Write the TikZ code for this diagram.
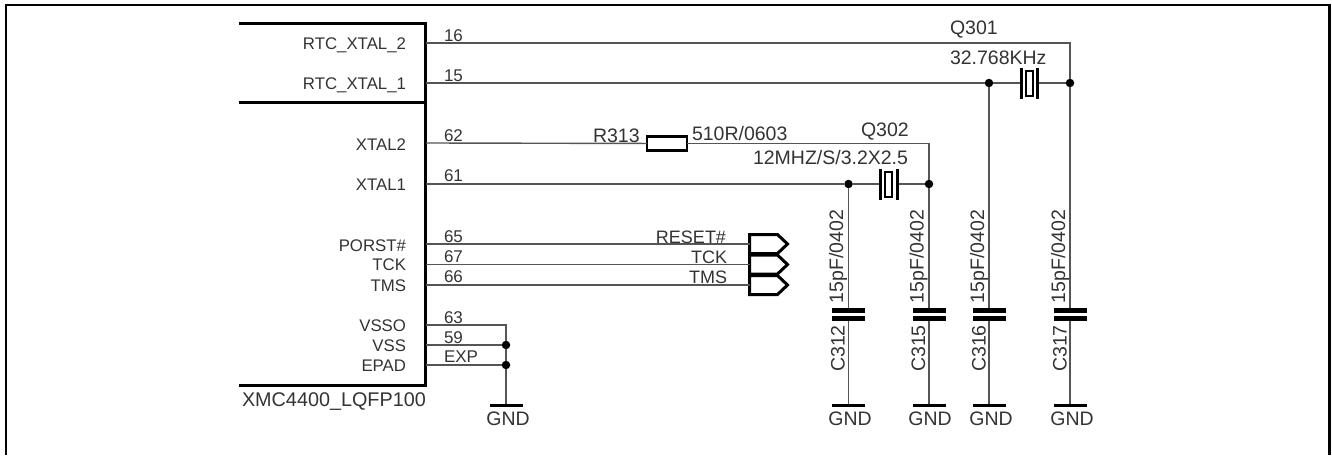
\documentclass[tikz,border=0pt]{standalone}
\usepackage{fontspec}
\setmainfont{Liberation Sans}
\usetikzlibrary{shapes, shapes.symbols, positioning}
\definecolor{MyText}{HTML}{333333}
\definecolor{MyWire}{HTML}{555555}

\begin{document}
\begin{tikzpicture}	[
			x=1pt, y=-1pt,
			every node/.style={inner sep=0pt, outer sep=0pt, text=MyText},
			pinname/.style={anchor=base east, font=\fontsize{16.8}{17}\selectfont},
			pinnum/.style={anchor=base west, font=\fontsize{17}{17}\selectfont},
			part/.style={anchor=base west, font=\fontsize{19.5}{20}\selectfont},
			capval/.style={rotate=90, font=\fontsize{19.5}{20}\selectfont},
			junction/.style={circle, fill=black, minimum size=8.5pt},
			wire/.style={draw=MyWire, line width=1.4pt},
			heavy/.style={draw=black, line width=3pt},
			plate/.style={fill=black, minimum width=33pt, minimum height=5.5pt},
			gndbar/.style={fill=black, minimum width=33pt, minimum height=3pt},
			xplate/.style={fill=black, minimum width=3pt, minimum height=31pt},
			xbox/.style={draw=black, line width=2pt, minimum width=7pt, minimum height=25pt},
			port/.style={signal, signal to=east, signal pointer angle=87, draw=black, line width=3pt, minimum width=38pt, minimum height=19pt}
		]
			\useasboundingbox (0,0) rectangle (1332,455);

			% frame and chip outline
			\draw[line width=2.5pt] (6,455) |- (1329.5,5) -- (1329.5,455);
			\draw[heavy] (239,23) -- (425,23) -- (425,385) -- (239,385);
			\draw[heavy] (239,102.5) -- (425,102.5);

			\node [pinname] at (406,49) {RTC\_XTAL\_2};
			\node [pinname] at (406,89) {RTC\_XTAL\_1};
			\node [pinname] at (406,150) {XTAL2};
			\node [pinname] at (406,190) {XTAL1};
			\node [pinname] at (406,251) {PORST\#};
			\node [pinname] at (406,270) {TCK};
			\node [pinname] at (406,291) {TMS};
			\node [pinname] at (406,331) {VSSO};
			\node [pinname] at (406,351) {VSS};
			\node [pinname] at (406,371) {EPAD};
			\node (chipname) [part, font=\fontsize{19.8}{20}\selectfont] at (242,406) {XMC4400\_LQFP100};

			\node [pinnum] at (444,41) {16};
			\node [pinnum] at (444,81) {15};
			\node [pinnum] at (444,141) {62};
			\node [pinnum] at (444,181) {61};
			\node [pinnum] at (444,242) {65};
			\node [pinnum] at (444,262) {67};
			\node [pinnum] at (444,282) {66};
			\node [pinnum] at (444,323) {63};
			\node [pinnum] at (444,343) {59};
			\node [pinnum] at (444,362) {EXP};

			\coordinate (pin16) at (426,43);
			\coordinate (pin15) at (426,83);
			\coordinate (pin62) at (426,143);
			\coordinate (pin61) at (426,184);
			\coordinate (pin65) at (426,244);
			\coordinate (pin67) at (426,264.5);
			\coordinate (pin66) at (426,285);
			\coordinate (pin63) at (426,325);
			\coordinate (pin59) at (426,345);
			\coordinate (pinexp) at (426,365);

			% ground of the chip
			\node (vssdot) [junction] at (506,345) {};
			\node (expdot) [junction] at (506,365) {};
			\node (gndbar0) [gndbar] at (506,405) {};
			\node (gnd0) [part, anchor=base] at (508,425) {GND};
			\draw[wire] (pin63) -| (vssdot);
			\draw[wire] (pin59) -- (vssdot);
			\draw[wire] (pinexp) -- (expdot);
			\draw[wire] (vssdot) -- (expdot);
			\draw[wire] (expdot) -- (gndbar0);

			% outgoing signals
			\node (port1) [port] at (763.5,244) {};
			\node (port2) [port] at (763.5,264.5) {};
			\node (port3) [port] at (763.5,285) {};
			\node [part, anchor=base east, font=\fontsize{18}{18}\selectfont] at (726,243) {RESET\#};
			\node [part, anchor=base east, font=\fontsize{18}{18}\selectfont] at (727,263) {TCK};
			\node [part, anchor=base east, font=\fontsize{18}{18}\selectfont] at (727,283) {TMS};
			\draw[wire] (pin65) -- (port1);
			\draw[wire] (pin67) -- (port2);
			\draw[wire] (pin66) -- (port3);

			% Q301
			\node (q301a) [junction] at (989,83) {};
			\node (q301b) [junction] at (1070,83) {};
			\node (q301box) [xbox] at (1029.5,83) {};
			\node (q301l) [xplate] at (1021.5,83) {};
			\node (q301r) [xplate] at (1037.5,83) {};
			\node [part] at (950,34) {Q301};
			\node [part] at (950,64) {32.768KHz};
			\draw[wire] (pin16) -| (q301b);
			\draw[wire] (pin15) -- (q301a);
			\draw[wire] (q301a) -- (q301l);
			\draw[wire] (q301r) -- (q301b);

			% R313 and Q302
			\node (r313) [draw=black, line width=2.5pt, minimum width=40pt, minimum height=14pt] at (667,143.5) {};
			\node [part] at (593,142) {R313};
			\node [part] at (692,140) {510R/0603};
			\node (q302a) [junction] at (848.5,184) {};
			\node (q302b) [junction] at (929,184) {};
			\node (q302box) [xbox] at (888.5,184) {};
			\node (q302l) [xplate] at (880,184) {};
			\node (q302r) [xplate] at (897,184) {};
			\node [part] at (861,136) {Q302};
			\node [part] at (753,164) {12MHZ/S/3.2X2.5};
			\draw[wire] (pin62) -- (r313);
			\draw[wire] (r313.east) -| (q302b);
			\draw[wire] (pin61) -- (q302a);
			\draw[wire] (q302a) -- (q302l);
			\draw[wire] (q302r) -- (q302b);

			% capacitors
			\node (c312t) [plate] at (848.5,310.5) {};
			\node (c312b) [plate, below=2.5pt of c312t] {};
			\node (c312g) [gndbar] at (848.5,405) {};
			\node [capval] at (838,256.5) {15pF/0402};
			\node [capval] at (838,348.5) {C312};
			\node [part, anchor=base] at (850,425) {GND};
			\draw[wire] (q302a) -- (c312t);
			\draw[wire] (c312b) -- (c312g);

			\node (c315t) [plate] at (929,310.5) {};
			\node (c315b) [plate, below=2.5pt of c315t] {};
			\node (c315g) [gndbar] at (929,405) {};
			\node [capval] at (918.5,256.5) {15pF/0402};
			\node [capval] at (918.5,348.5) {C315};
			\node [part, anchor=base] at (930,425) {GND};
			\draw[wire] (q302b) -- (c315t);
			\draw[wire] (c315b) -- (c315g);

			\node (c316t) [plate] at (989,310.5) {};
			\node (c316b) [plate, below=2.5pt of c316t] {};
			\node (c316g) [gndbar] at (989,405) {};
			\node [capval] at (979,256.5) {15pF/0402};
			\node [capval] at (979,348.5) {C316};
			\node [part, anchor=base] at (991,425) {GND};
			\draw[wire] (q301a) -- (c316t);
			\draw[wire] (c316b) -- (c316g);

			\node (c317t) [plate] at (1070,310.5) {};
			\node (c317b) [plate, below=2.5pt of c317t] {};
			\node (c317g) [gndbar] at (1070,405) {};
			\node [capval] at (1060,256.5) {15pF/0402};
			\node [capval] at (1060,348.5) {C317};
			\node [part, anchor=base] at (1072,425) {GND};
			\draw[wire] (q301b) -- (c317t);
			\draw[wire] (c317b) -- (c317g);
		\end{tikzpicture}
\end{document}
